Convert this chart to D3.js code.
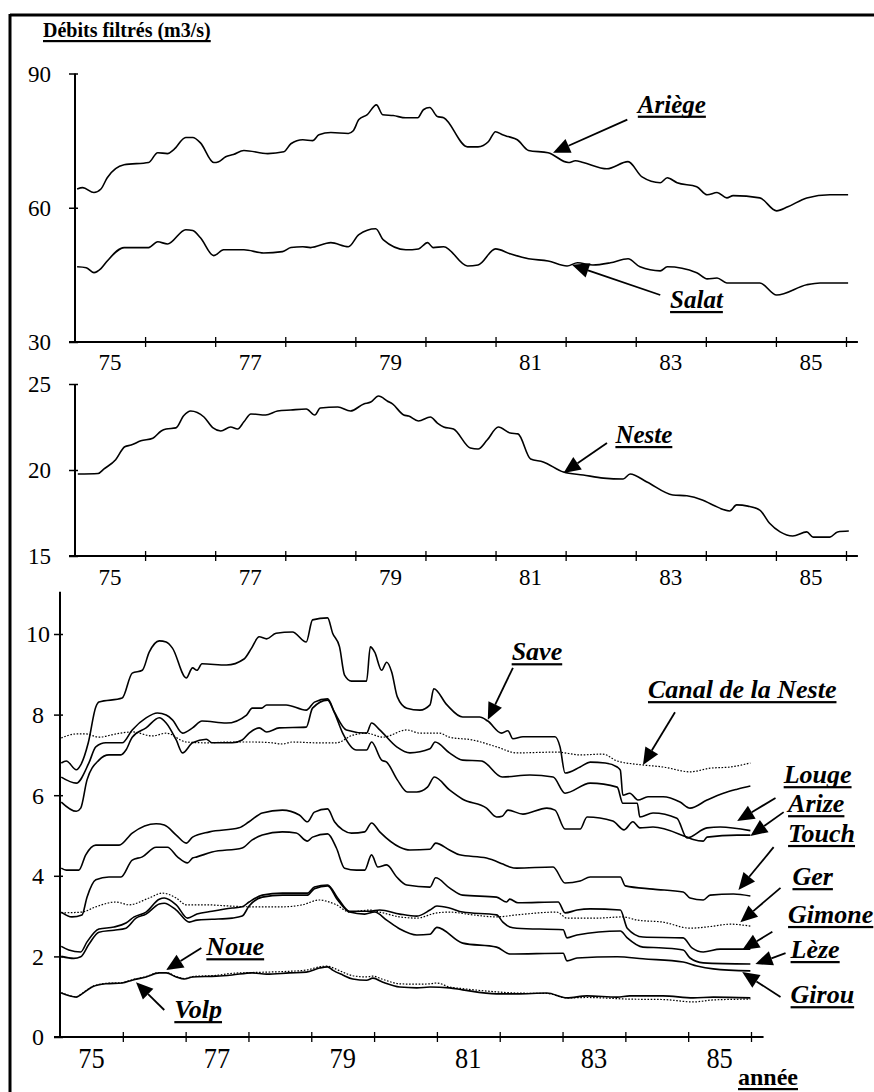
<!DOCTYPE html>
<html><head><meta charset="utf-8">
<script src="https://cdn.jsdelivr.net/npm/d3@7"></script>
<style>body{margin:0;background:#fff}</style>
</head><body>
<svg id="c" width="874" height="1092"></svg>
<script>
const yearLabels = ["75","77","79","81","83","85"];
const yearLabelPos = [1975.5,1977.5,1979.5,1981.5,1983.5,1985.5];
const yearTicks = [1976,1977,1978,1979,1980,1981,1982,1983,1984,1985,1986];
const topTicks = [30,60,90];
const midTicks = [15,20,25];
const botTicks = [0,2,4,6,8,10];
const ariege = [[1975.03,64.2],[1975.11,64.5],[1975.27,63.4],[1975.37,64.2],[1975.46,66.7],[1975.70,69.6],[1976.05,70.1],[1976.18,72.3],[1976.32,72.1],[1976.41,73.0],[1976.58,75.7],[1976.68,75.7],[1976.79,74.5],[1976.98,70.1],[1977.05,70.3],[1977.15,71.4],[1977.26,71.9],[1977.41,72.8],[1977.75,72.1],[1977.98,72.5],[1978.08,74.3],[1978.25,75.2],[1978.39,75.0],[1978.48,76.3],[1978.65,76.8],[1978.90,76.6],[1978.97,77.2],[1979.05,79.7],[1979.17,80.8],[1979.30,83.0],[1979.39,80.8],[1979.54,80.6],[1979.72,80.1],[1979.89,80.1],[1979.97,81.9],[1980.06,82.4],[1980.17,80.4],[1980.26,80.1],[1980.60,73.6],[1980.75,73.6],[1980.90,74.8],[1981.00,77.0],[1981.10,76.3],[1981.18,75.9],[1981.31,75.2],[1981.47,72.8],[1981.75,72.3],[1982.04,70.1],[1982.14,70.5],[1982.25,70.1],[1982.59,68.7],[1982.89,70.3],[1983.09,66.9],[1983.35,65.6],[1983.45,66.7],[1983.59,65.6],[1983.87,64.7],[1984.02,62.9],[1984.16,63.4],[1984.30,62.2],[1984.39,62.7],[1984.77,62.2],[1985.01,59.3],[1985.17,60.2],[1985.44,62.2],[1985.77,62.9],[1986.03,62.9]];
const salat = [[1975.03,46.8],[1975.16,46.6],[1975.27,45.5],[1975.37,46.4],[1975.46,48.1],[1975.70,51.1],[1976.05,51.1],[1976.18,52.4],[1976.32,51.9],[1976.58,55.1],[1976.68,54.9],[1976.79,53.3],[1976.98,49.3],[1977.12,50.6],[1977.41,50.6],[1977.69,49.9],[1977.96,50.2],[1978.08,51.1],[1978.25,51.3],[1978.36,51.1],[1978.65,52.2],[1978.90,51.3],[1979.05,54.0],[1979.29,55.3],[1979.40,52.8],[1979.72,50.6],[1979.90,50.8],[1980.03,52.2],[1980.11,51.1],[1980.26,51.3],[1980.60,47.0],[1980.75,47.2],[1981.00,50.8],[1981.21,49.7],[1981.47,48.6],[1981.75,48.1],[1982.02,47.0],[1982.17,47.7],[1982.39,47.2],[1982.64,47.7],[1982.89,48.6],[1983.06,46.8],[1983.35,45.9],[1983.45,46.8],[1983.87,45.5],[1984.02,44.1],[1984.16,44.3],[1984.30,43.2],[1984.77,43.2],[1985.01,40.5],[1985.44,42.8],[1985.63,43.2],[1986.03,43.2]];
const neste = [[1975.04,19.77],[1975.33,19.8],[1975.41,20.05],[1975.58,20.6],[1975.71,21.35],[1975.80,21.45],[1975.94,21.7],[1976.11,21.85],[1976.23,22.27],[1976.30,22.38],[1976.44,22.45],[1976.55,23.15],[1976.65,23.43],[1976.84,23.08],[1976.97,22.45],[1977.08,22.27],[1977.22,22.5],[1977.32,22.38],[1977.41,22.8],[1977.51,23.26],[1977.72,23.2],[1977.89,23.43],[1978.08,23.49],[1978.30,23.55],[1978.42,23.2],[1978.50,23.6],[1978.75,23.66],[1978.93,23.43],[1979.12,23.84],[1979.22,23.95],[1979.33,24.3],[1979.46,24.0],[1979.53,23.84],[1979.69,23.2],[1979.76,23.14],[1979.90,22.85],[1980.07,23.08],[1980.17,22.73],[1980.26,22.5],[1980.40,22.38],[1980.64,21.28],[1980.75,21.22],[1980.88,21.74],[1981.04,22.5],[1981.21,22.15],[1981.32,22.1],[1981.50,20.64],[1981.68,20.47],[1981.97,19.88],[1982.25,19.71],[1982.54,19.53],[1982.82,19.48],[1982.92,19.77],[1983.16,19.3],[1983.53,18.55],[1983.73,18.5],[1983.95,18.26],[1984.10,17.97],[1984.34,17.62],[1984.44,17.97],[1984.60,17.9],[1984.77,17.67],[1984.91,16.9],[1985.06,16.4],[1985.24,16.16],[1985.44,16.4],[1985.53,16.1],[1985.77,16.1],[1985.88,16.4],[1986.04,16.45]];
const save = [[1975.02,6.8],[1975.10,6.85],[1975.26,6.63],[1975.33,6.75],[1975.45,7.3],[1975.57,8.19],[1975.62,8.31],[1975.99,8.41],[1976.15,9.03],[1976.31,9.1],[1976.42,9.55],[1976.58,9.83],[1976.69,9.8],[1976.79,9.65],[1977.01,8.91],[1977.11,9.16],[1977.18,9.1],[1977.26,9.26],[1977.65,9.23],[1977.93,9.38],[1978.05,9.65],[1978.17,9.93],[1978.29,9.88],[1978.44,10.02],[1978.70,10.05],[1978.92,9.8],[1979.02,10.35],[1979.26,10.4],[1979.34,10.02],[1979.45,9.68],[1979.53,8.98],[1979.64,8.83],[1979.88,8.83],[1979.94,9.68],[1980.01,9.55],[1980.12,9.1],[1980.20,9.3],[1980.28,9.06],[1980.37,8.44],[1980.52,8.16],[1980.73,8.11],[1980.89,8.24],[1980.95,8.64],[1981.16,8.24],[1981.41,7.94],[1981.68,7.94],[1981.81,7.84],[1982.03,7.54],[1982.13,7.6],[1982.21,7.4],[1982.37,7.45],[1982.88,7.45],[1982.96,7.2],[1983.04,6.55],[1983.28,6.7],[1983.44,6.82],[1983.68,6.8],[1983.87,6.7],[1983.92,6.62],[1983.96,6.0],[1984.07,6.05],[1984.20,5.88],[1984.36,5.96],[1984.60,5.96],[1984.87,5.83],[1985.03,5.68],[1985.30,5.88],[1985.56,6.05],[1985.78,6.15],[1985.99,6.23]];
const canal = [[1975.02,7.42],[1975.26,7.52],[1975.41,7.52],[1975.62,7.44],[1975.89,7.52],[1976.15,7.57],[1976.47,7.47],[1976.69,7.54],[1977.01,7.32],[1977.33,7.3],[1977.74,7.32],[1978.06,7.32],[1978.38,7.3],[1978.54,7.27],[1978.70,7.32],[1979.08,7.3],[1979.40,7.3],[1979.66,7.49],[1979.88,7.54],[1980.14,7.44],[1980.52,7.62],[1980.73,7.54],[1981.04,7.54],[1981.20,7.44],[1981.57,7.37],[1981.95,7.2],[1982.27,7.05],[1982.91,7.07],[1983.28,7.0],[1983.64,7.02],[1983.87,6.85],[1984.28,6.75],[1984.60,6.7],[1985.03,6.58],[1985.35,6.67],[1985.67,6.7],[1985.99,6.8]];
const louge = [[1975.02,6.45],[1975.26,6.3],[1975.46,6.8],[1975.57,7.2],[1975.73,7.3],[1975.99,7.3],[1976.15,7.62],[1976.37,7.92],[1976.55,8.04],[1976.69,7.99],[1976.79,7.87],[1976.95,7.54],[1977.11,7.67],[1977.26,7.84],[1977.65,7.79],[1977.97,7.99],[1978.06,8.16],[1978.21,8.16],[1978.29,8.24],[1978.60,8.24],[1978.92,8.11],[1979.05,8.31],[1979.26,8.39],[1979.37,8.06],[1979.56,7.62],[1979.88,7.54],[1979.96,7.79],[1980.09,7.62],[1980.36,7.2],[1980.57,7.05],[1980.89,7.15],[1980.97,7.32],[1981.20,7.05],[1981.41,6.87],[1981.71,6.85],[1982.04,6.45],[1982.48,6.5],[1982.85,6.45],[1983.04,6.05],[1983.44,6.3],[1983.87,6.2],[1983.96,5.8],[1984.19,5.8],[1984.23,5.46],[1984.44,5.56],[1984.82,5.43],[1984.98,4.94],[1985.30,5.19],[1985.51,5.21],[1985.99,5.12]];
const arize = [[1975.02,5.83],[1975.26,5.6],[1975.33,5.68],[1975.43,6.38],[1975.62,6.87],[1975.78,7.0],[1975.97,7.0],[1976.05,7.12],[1976.15,7.44],[1976.37,7.67],[1976.58,7.92],[1976.69,7.79],[1976.85,7.37],[1976.95,7.05],[1977.11,7.3],[1977.33,7.39],[1977.42,7.3],[1977.74,7.3],[1977.90,7.37],[1978.01,7.54],[1978.17,7.67],[1978.29,7.57],[1978.49,7.67],[1978.92,7.69],[1979.02,8.16],[1979.26,8.36],[1979.37,8.04],[1979.50,7.54],[1979.72,7.12],[1979.88,7.12],[1979.96,7.32],[1980.12,6.87],[1980.20,6.82],[1980.37,6.38],[1980.53,6.08],[1980.68,6.08],[1980.85,6.2],[1980.96,6.45],[1981.20,6.13],[1981.41,5.9],[1981.79,5.68],[1981.95,5.46],[1982.04,5.48],[1982.13,5.63],[1982.37,5.53],[1982.75,5.68],[1982.88,5.63],[1983.04,5.16],[1983.28,5.16],[1983.39,5.46],[1983.80,5.36],[1983.98,5.14],[1984.12,5.34],[1984.23,5.19],[1984.44,5.21],[1984.98,4.96],[1985.08,4.9],[1985.24,4.86],[1985.30,4.96],[1985.78,5.01],[1985.99,5.01]];
const touch = [[1975.02,4.19],[1975.10,4.14],[1975.30,4.14],[1975.41,4.52],[1975.57,4.76],[1975.94,4.76],[1976.15,5.06],[1976.53,5.29],[1976.66,5.26],[1976.85,5.01],[1977.01,4.81],[1977.11,4.96],[1977.38,5.09],[1977.85,5.19],[1978.01,5.34],[1978.22,5.56],[1978.54,5.63],[1978.81,5.51],[1978.94,5.34],[1979.05,5.58],[1979.26,5.66],[1979.37,5.34],[1979.50,5.14],[1979.64,5.06],[1979.85,5.09],[1979.96,5.31],[1980.09,5.09],[1980.41,4.71],[1980.57,4.64],[1980.89,4.66],[1980.98,4.81],[1981.20,4.64],[1981.36,4.52],[1981.79,4.44],[1982.05,4.29],[1982.16,4.22],[1982.27,4.19],[1982.85,4.22],[1983.04,3.82],[1983.28,3.87],[1983.44,3.97],[1983.92,3.97],[1984.00,3.75],[1984.44,3.67],[1984.92,3.6],[1985.03,3.45],[1985.24,3.4],[1985.35,3.52],[1985.72,3.55],[1985.99,3.5]];
const ger = [[1975.02,3.08],[1975.35,3.1],[1975.57,3.23],[1975.89,3.35],[1976.10,3.28],[1976.42,3.45],[1976.63,3.57],[1976.85,3.45],[1977.01,3.28],[1977.33,3.28],[1977.70,3.25],[1978.06,3.23],[1978.54,3.23],[1978.86,3.28],[1979.13,3.4],[1979.24,3.37],[1979.40,3.28],[1979.61,3.1],[1979.93,3.15],[1980.09,3.1],[1980.41,2.98],[1980.68,2.95],[1981.00,3.08],[1981.20,3.1],[1981.57,3.03],[1981.95,2.98],[1982.27,3.03],[1982.91,3.1],[1983.07,2.95],[1983.55,2.95],[1983.96,2.98],[1984.19,2.9],[1984.60,2.85],[1985.03,2.7],[1985.40,2.75],[1985.67,2.8],[1985.99,2.75]];
const gimone = [[1975.02,3.1],[1975.19,2.98],[1975.35,3.03],[1975.43,3.47],[1975.57,3.9],[1975.78,3.97],[1975.97,3.97],[1976.15,4.39],[1976.31,4.47],[1976.53,4.71],[1976.71,4.71],[1976.87,4.47],[1977.03,4.32],[1977.11,4.44],[1977.18,4.47],[1977.42,4.59],[1977.90,4.69],[1978.06,4.89],[1978.22,5.01],[1978.54,5.09],[1978.76,5.06],[1978.94,4.86],[1979.02,4.96],[1979.26,5.04],[1979.40,4.69],[1979.53,4.19],[1979.72,4.14],[1979.85,4.14],[1979.96,4.52],[1980.06,4.22],[1980.20,4.27],[1980.36,3.97],[1980.52,3.77],[1980.89,3.72],[1980.98,3.95],[1981.20,3.7],[1981.41,3.52],[1981.95,3.47],[1982.11,3.35],[1982.16,3.42],[1982.29,3.33],[1982.93,3.35],[1983.04,3.08],[1983.23,3.15],[1983.44,3.18],[1983.92,3.15],[1984.03,2.7],[1984.28,2.48],[1984.92,2.46],[1985.06,2.21],[1985.24,2.11],[1985.51,2.18],[1985.99,2.18]];
const leze = [[1975.02,2.25],[1975.14,2.16],[1975.33,2.11],[1975.43,2.36],[1975.62,2.68],[1975.86,2.73],[1976.05,2.83],[1976.18,2.98],[1976.37,3.1],[1976.58,3.42],[1976.66,3.45],[1976.85,3.28],[1977.03,2.95],[1977.18,3.05],[1977.42,3.12],[1977.74,3.2],[1977.90,3.23],[1978.01,3.35],[1978.22,3.52],[1978.54,3.57],[1978.94,3.57],[1979.05,3.72],[1979.26,3.77],[1979.42,3.45],[1979.61,3.12],[1979.93,3.12],[1980.09,3.15],[1980.41,3.05],[1980.68,3.0],[1980.89,3.15],[1981.00,3.25],[1981.20,3.2],[1981.41,3.1],[1981.95,3.03],[1982.05,2.85],[1982.16,2.73],[1982.27,2.7],[1983.01,2.66],[1983.07,2.46],[1983.23,2.53],[1983.92,2.63],[1984.03,2.46],[1984.28,2.23],[1984.60,2.21],[1984.92,2.16],[1985.03,1.96],[1985.24,1.84],[1985.99,1.81]];
const girou = [[1975.02,2.0],[1975.22,1.95],[1975.33,1.99],[1975.46,2.3],[1975.62,2.6],[1975.86,2.65],[1976.05,2.7],[1976.21,2.95],[1976.37,3.05],[1976.58,3.3],[1976.66,3.32],[1976.85,3.15],[1977.06,2.85],[1977.18,2.9],[1977.42,2.92],[1977.74,2.95],[1977.90,3.0],[1978.01,3.25],[1978.22,3.47],[1978.54,3.52],[1978.94,3.52],[1979.05,3.68],[1979.26,3.75],[1979.42,3.4],[1979.61,3.1],[1979.85,3.05],[1980.01,3.1],[1980.20,2.9],[1980.41,2.68],[1980.68,2.53],[1980.89,2.55],[1981.00,2.72],[1981.41,2.33],[1981.95,2.23],[1982.16,2.06],[1983.01,2.08],[1983.07,1.89],[1983.23,1.96],[1983.87,1.99],[1984.28,1.94],[1984.92,1.86],[1985.14,1.76],[1985.40,1.69],[1985.99,1.64]];
const volp = [[1975.02,1.09],[1975.26,0.99],[1975.35,1.07],[1975.51,1.24],[1975.73,1.32],[1975.99,1.34],[1976.15,1.41],[1976.37,1.49],[1976.58,1.59],[1976.69,1.59],[1976.85,1.49],[1976.98,1.44],[1977.11,1.49],[1977.49,1.51],[1977.74,1.54],[1978.06,1.59],[1978.29,1.56],[1978.65,1.59],[1978.92,1.61],[1979.13,1.71],[1979.26,1.74],[1979.34,1.66],[1979.50,1.54],[1979.66,1.44],[1979.88,1.41],[1979.98,1.46],[1980.14,1.36],[1980.41,1.24],[1980.68,1.22],[1980.89,1.24],[1981.20,1.22],[1981.41,1.17],[1981.95,1.07],[1982.27,1.07],[1982.75,1.09],[1983.07,0.97],[1983.39,1.02],[1983.87,0.99],[1984.07,1.02],[1984.60,1.02],[1985.08,0.97],[1985.40,0.99],[1985.99,0.97]];
const noue = [[1975.02,1.1],[1975.26,1.0],[1975.35,1.08],[1975.51,1.25],[1975.73,1.33],[1975.99,1.35],[1976.15,1.42],[1976.37,1.5],[1976.58,1.6],[1976.69,1.6],[1976.85,1.5],[1976.98,1.45],[1977.11,1.5],[1977.49,1.53],[1977.74,1.58],[1978.06,1.6],[1978.29,1.61],[1978.65,1.63],[1978.92,1.66],[1979.13,1.74],[1979.26,1.76],[1979.34,1.72],[1979.50,1.61],[1979.66,1.52],[1979.88,1.49],[1979.98,1.51],[1980.14,1.43],[1980.41,1.32],[1980.68,1.31],[1980.89,1.32],[1981.00,1.34],[1981.20,1.24],[1981.41,1.2],[1981.95,1.12],[1982.27,1.09],[1982.75,1.08],[1983.07,0.97],[1983.39,0.98],[1984.07,0.94],[1984.60,0.93],[1985.08,0.87],[1985.40,0.92],[1985.99,0.94]];
const topNotes = [["Ariège",1983.03,81.25,1982.88,79.7,1981.82,72.3],["Salat",1983.49,37.6,1983.35,40.5,1982.09,47.25]];
const midNotes = [["Neste",1982.71,21.57,1982.59,21.57,1981.97,19.83]];
const botNotes = [["Save",1982.19,9.35,1982.21,9.16,1981.81,7.87],["Canal de la Neste",1984.36,8.41,1984.79,8.06,1984.28,6.75],["Louge",1986.52,6.30,1986.39,5.93,1985.78,5.36],["Arize",1986.59,5.58,1986.52,5.58,1985.99,4.99],["Touch",1986.59,4.84,1986.36,4.71,1985.80,3.65],["Ger",1986.66,3.77,1986.47,3.70,1985.83,2.85],["Gimone",1986.59,2.83,1986.34,2.61,1985.86,2.16],["Lèze",1986.63,1.96,1986.55,2.08,1986.07,1.81],["Girou",1986.63,0.84,1986.47,0.99,1985.86,1.61],["Noue",1977.33,2.03,1977.25,2.21,1976.69,1.66],["Volp",1976.82,0.47,1976.66,0.67,1976.21,1.36]];

const fams = [["Liberation","Serif"].join(" ")];
const FAM = `"${fams[0]}"`;
const svg = d3.select("#c");
svg.append("line").attr("x1",10).attr("y1",15).attr("x2",874).attr("y2",15).attr("stroke","#000").attr("stroke-width",3);
svg.append("line").attr("x1",10).attr("y1",14).attr("x2",10).attr("y2",1092).attr("stroke","#000").attr("stroke-width",3);

function txt(g, size, bold, italic){
  const t = g.append("text").attr("fill","#000");
  t.style("font-family",FAM).style("font-size",size+"px")
   .style("font-weight",bold?"bold":"normal").style("font-style",italic?"italic":"normal");
  return t;
}
function underlined(g, x, y, s, size, italic){
  const t = txt(g,size,true,italic).attr("x",x).attr("y",y).text(s);
  const w = t.node().getComputedTextLength();
  g.append("rect").attr("x",x).attr("y",y+3).attr("width",w).attr("height",2.2).attr("fill","#000");
  return t;
}
underlined(svg, 43, 37, "Débits filtrés (m3/s)", 20, false);

function panel(xs, ys, yTicks, xEnd, yLabelX, xLabelY, xLabelSize, xScaleX, yLabelSize){
  const g = svg.append("g");
  const x0 = xs.range()[0];
  g.append("line").attr("x1",x0).attr("x2",x0).attr("y1",ys.range()[1]).attr("y2",ys(ys.domain()[0]))
    .attr("stroke","#000").attr("stroke-width",2);
  const ya = g.append("g").attr("transform",`translate(${x0},0)`)
    .call(d3.axisLeft(ys).tickValues(yTicks).tickSize(6).tickFormat(""));
  ya.select(".domain").remove();
  ya.selectAll(".tick line").attr("x2",-6).attr("x1",3).attr("stroke-width",1.5);
  yTicks.forEach(v=>{
    txt(g,yLabelSize,false,false).attr("x",yLabelX).attr("y",ys(v)).attr("dy","0.35em").attr("text-anchor","middle").text(v);
  });
  const yb = ys(ys.domain()[0]);
  g.append("line").attr("x1",x0-6).attr("x2",xs(xEnd)).attr("y1",yb).attr("y2",yb).attr("stroke","#000").attr("stroke-width",2);
  const xa = g.append("g").attr("transform",`translate(0,${yb})`)
    .call(d3.axisBottom(xs).tickValues(yearTicks).tickSize(5).tickFormat(""));
  xa.select(".domain").remove();
  xa.selectAll(".tick line").attr("y1",-5).attr("y2",5).attr("stroke-width",1.3);
  yearLabels.forEach((lab,i)=>{
    const cx = xs(yearLabelPos[i]);
    txt(g,xLabelSize,false,false).attr("transform",`translate(${cx},${xLabelY}) scale(${xScaleX},1)`)
      .attr("text-anchor","middle").text(lab);
  });
  return g;
}

const x1 = d3.scaleLinear().domain([1975,1986]).range([75,846]);
const y1 = d3.scaleLinear().domain([30,90]).range([342,73.5]);
const y2 = d3.scaleLinear().domain([15,25]).range([556,384]);
const x3 = d3.scaleLinear().domain([1975,1986]).range([60,751]);
const y3 = d3.scaleLinear().domain([0,10]).range([1037,634]);

panel(x1,y1,topTicks,1986.17,39.5,370,23,1,23);
panel(x1,y2,midTicks,1986.17,39.5,585,23,1,23);
const gb = panel(x3,y3,botTicks,1986.2,38,1068,30,0.88,24);
gb.append("line").attr("x1",60).attr("x2",60).attr("y1",y3(11.05)).attr("y2",y3(10)).attr("stroke","#000").attr("stroke-width",2);

function drawLine(data, xs, ys, dotted){
  const line = d3.line().x(d=>xs(d[0])).y(d=>ys(d[1])).curve(d3.curveMonotoneX);
  svg.append("path").datum(data).attr("d",line).attr("fill","none").attr("stroke","#000")
    .attr("stroke-width",dotted?1.2:1.6).attr("stroke-dasharray",dotted?"1.6,1.6":null)
    .attr("stroke-linejoin","round");
}
drawLine(ariege,x1,y1); drawLine(salat,x1,y1);
drawLine(neste,x1,y2);
[save,louge,arize,touch,gimone,leze,girou,volp].forEach(d=>drawLine(d,x3,y3,false));
[canal,ger,noue].forEach(d=>drawLine(d,x3,y3,true));

function notes(list, xs, ys, size){
  list.forEach(n=>{
    const [lab,lx,ly,fx,fy,tx,ty] = n;
    underlined(svg, xs(lx), ys(ly), lab, size, true);
    const ax=xs(fx), ay=ys(fy), bx=xs(tx), by=ys(ty);
    const dx=bx-ax, dy=by-ay, L=Math.hypot(dx,dy), ux=dx/L, uy=dy/L;
    const hl=17, hw=7.5;
    const baseX=bx-ux*hl, baseY=by-uy*hl;
    svg.append("line").attr("x1",ax).attr("y1",ay).attr("x2",baseX).attr("y2",baseY).attr("stroke","#000").attr("stroke-width",1.8);
    svg.append("path").attr("d",`M${bx},${by}L${baseX-uy*hw},${baseY+ux*hw}L${baseX+uy*hw},${baseY-ux*hw}Z`).attr("fill","#000");
  });
}
notes(topNotes,x1,y1,25);
notes(midNotes,x1,y2,25);
notes(botNotes,x3,y3,26);
underlined(svg, 738, 1085, "année", 24, false);
</script>
</body></html>
